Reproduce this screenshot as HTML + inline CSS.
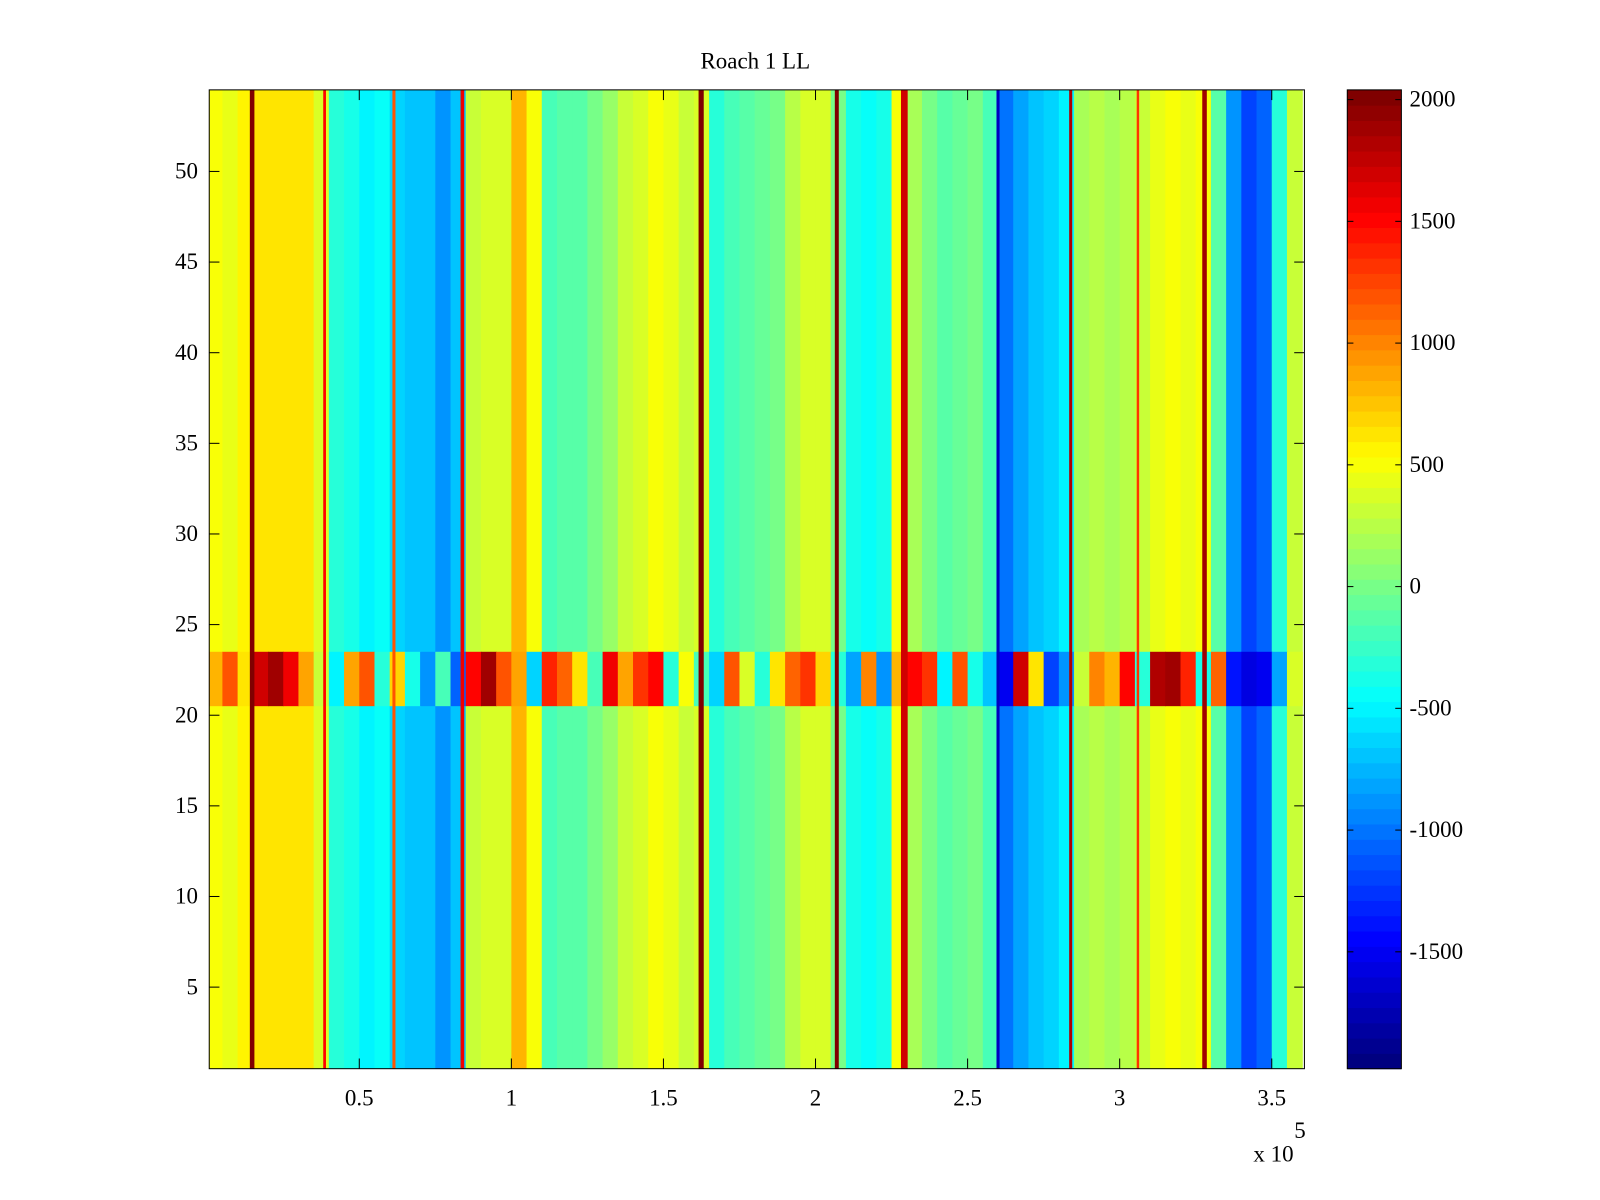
<!DOCTYPE html>
<html><head><meta charset="utf-8"><title>Roach 1 LL</title>
<style>
body{margin:0;background:#fff;}
svg text{font-family:"Liberation Serif",serif;font-size:22.5px;fill:#000;}
</style></head>
<body>
<svg id="chart" width="1600" height="1200" viewBox="0 0 1567.6 1175.6" xmlns="http://www.w3.org/2000/svg" style="display:block">
<rect width="1600" height="1200" fill="#fff"/>
<text x="740" y="67" text-anchor="middle">Roach 1 LL</text>
<g id="cells"></g>
<g id="axes"></g>
<g id="cbar"></g>
</svg>
<script>
// column means (each column spans 5000 x-units)
const colWidth = 5000;
const colValues = [500,450,550,600,650,650,600,400,-300,-400,-500,-450,-600,-700,-700,-900,-700,300,400,350,800,500,-200,-150,-100,0,100,300,400,500,450,300,400,-300,-200,-100,-50,0,250,400,350,0,-400,-450,-350,500,200,0,-100,-50,0,-200,-1000,-800,-700,-600,-500,200,250,200,250,300,450,500,450,500,-100,-900,-1200,-1100,-300,300];
// rows 21-23 band values per column
const bandValues = [800,1200,600,1700,1900,1600,900,300,-500,900,1200,-300,700,-400,-900,-200,-1100,1500,1900,1200,900,-600,1400,1100,600,-200,1600,900,1300,1500,-300,500,-200,-600,1200,400,-300,600,1100,1300,700,-300,-800,1000,-900,800,1500,1300,-500,1200,-400,-700,-1500,1700,600,-1200,-900,300,1000,800,1500,-300,1800,1900,1400,-400,1100,-1400,-1600,-1500,-800,400];
const bandRows = [21,22,23];
// sharp vertical lines: center (x-units), value, width (x-units)
const lineX = [14770,38600,61400,83900,162400,207000,229200,260000,283900,306000,327900];
const lineV = [2000,1500,1200,1600,2000,2000,1700,-1700,1800,1300,1900];
const lineW = [1500,900,1000,1200,1700,1300,2200,1000,1000,800,1500];
const xTicks = [0.5,1,1.5,2,2.5,3,3.5];
const yTicks = [5,10,15,20,25,30,35,40,45,50];
const cbTicks = [2000,1500,1000,500,0,-500,-1000,-1500];

const NS="http://www.w3.org/2000/svg";
const PL=205, PR=1278, PT=88, PB=1047;
const X0=203, XS=298/1e5;
const xs = v => X0 + v*XS;
const ys = r => PB - (r-0.5)*(PB-PT)/54;
const CMIN=-1980, CMAX=2040;
function jet(v){
  let t=(v-CMIN)/(CMAX-CMIN); t=Math.max(0,Math.min(1,t));
  t=Math.floor(t*63.999)/63;
  const c=x=>Math.round(255*Math.max(0,Math.min(1,x)));
  return `rgb(${c(1.5-Math.abs(4*t-3))},${c(1.5-Math.abs(4*t-2))},${c(1.5-Math.abs(4*t-1))})`;
}
function mk(tag,attrs,parent){const e=document.createElementNS(NS,tag);for(const k in attrs)e.setAttribute(k,attrs[k]);parent.appendChild(e);return e;}
const cells=document.getElementById('cells');
const clip=mk('clipPath',{id:'pc'},document.getElementById('chart'));
mk('rect',{x:PL,y:PT,width:PR-PL,height:PB-PT},clip);
cells.setAttribute('clip-path','url(#pc)');
colValues.forEach((v,i)=>{
  const x1=xs(i*colWidth), x2=xs((i+1)*colWidth);
  const r=mk('rect',{x:x1,y:PT,width:x2-x1+0.6,height:PB-PT,fill:jet(v)},cells);
  
  
});
colValues.forEach((v,i)=>{
  const x1=xs(i*colWidth), x2=xs((i+1)*colWidth);
  const top=ys(Math.max(...bandRows)+0.5), bot=ys(Math.min(...bandRows)-0.5);
  const r=mk('rect',{x:x1,y:top,width:x2-x1+0.6,height:bot-top,fill:jet(bandValues[i])},cells);
  
  
});
lineX.forEach((c,i)=>{
  const x1=xs(c-lineW[i]/2), x2=xs(c+lineW[i]/2);
  const r=mk('rect',{x:x1,y:PT,width:x2-x1,height:PB-PT,fill:jet(lineV[i])},cells);
  
  
});
const ax=document.getElementById('axes');
mk('rect',{x:PL,y:PT,width:PR-PL,height:PB-PT,fill:'none',stroke:'#000','stroke-width':1},ax);
xTicks.forEach(t=>{
  const x=xs(t*1e5);
  mk('line',{x1:x,x2:x,y1:PB,y2:PB-10,stroke:'#000'},ax);
  mk('line',{x1:x,x2:x,y1:PT,y2:PT+10,stroke:'#000'},ax);
  const tx=mk('text',{x:x,y:1083,'text-anchor':'middle'},ax);tx.textContent=t;
  
  
});
yTicks.forEach(t=>{
  const y=ys(t);
  mk('line',{x1:PL,x2:PL+10,y1:y,y2:y,stroke:'#000'},ax);
  mk('line',{x1:PR,x2:PR-10,y1:y,y2:y,stroke:'#000'},ax);
  const tx=mk('text',{x:194,y:y+7,'text-anchor':'end'},ax);tx.textContent=t;
  
  
});
const ex=mk('text',{x:1228,y:1138},ax);ex.textContent='x 10';


const ex2=mk('text',{x:1268,y:1115,'font-size':'15'},ax);ex2.textContent='5';


// colorbar
const cb=document.getElementById('cbar');
const CL=1320, CR=1373;
const cy=v=>PB-(v-CMIN)/(CMAX-CMIN)*(PB-PT);
for(let k=0;k<64;k++){
  const v0=CMIN+k*(CMAX-CMIN)/64, v1=CMIN+(k+1)*(CMAX-CMIN)/64;
  const r=mk('rect',{x:CL,y:cy(v1),width:CR-CL,height:cy(v0)-cy(v1)+0.5,fill:jet((v0+v1)/2)},cb);
  
  
}
mk('rect',{x:CL,y:PT,width:CR-CL,height:PB-PT,fill:'none',stroke:'#000'},cb);
cbTicks.forEach(t=>{
  const y=cy(t);
  mk('line',{x1:CL,x2:CL+6,y1:y,y2:y,stroke:'#000'},cb);
  mk('line',{x1:CR,x2:CR-6,y1:y,y2:y,stroke:'#000'},cb);
  const tx=mk('text',{x:1381,y:y+7},cb);tx.textContent=t;
  
  
});
</script>
</body></html>
